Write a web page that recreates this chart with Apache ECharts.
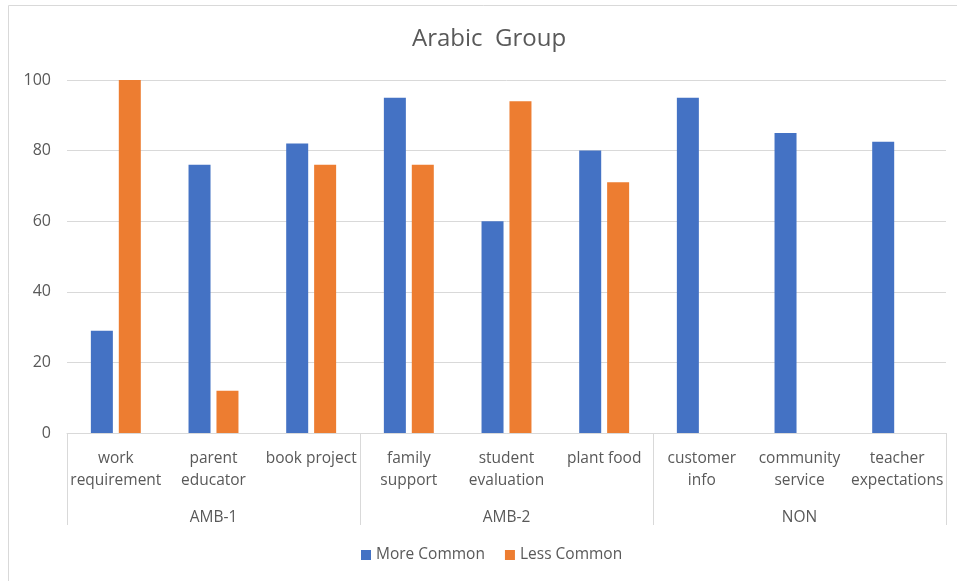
<!DOCTYPE html>
<html><head><meta charset="utf-8">
<script src="https://cdn.jsdelivr.net/npm/echarts@6/dist/echarts.min.js"></script>
<style>html,body{margin:0;padding:0;background:#fff}#c{width:957px;height:581px}</style>
</head><body><div id="c"></div>
<script>
const categories = ['work\nrequirement','parent\neducator','book project','family\nsupport','student\nevaluation','plant food','customer\ninfo','community\nservice','teacher\nexpectations'];
const groups = ['AMB-1','AMB-2','NON'];
const moreCommon = [29, 76, 82, 95, 60, 80, 95, 85, 82.5];
const lessCommon = [100, 12, 76, 76, 94, 71, null, null, null];
const yTicks = {min: 0, max: 100, interval: 20};

const font = 'Open Sans';
const txt = '#595959';
const chart = echarts.init(document.getElementById('c'));
chart.setOption({
  animation: false,
  textStyle: {fontFamily: font},
  graphic: [{type: 'rect', shape: {x: 8.5, y: 5.5, width: 960, height: 590}, style: {fill: 'none', stroke: '#d9d9d9', lineWidth: 1}, silent: true}],
  title: {text: 'Arabic  Group', left: 407, top: 22, textStyle: {fontFamily: font, fontSize: 24, fontWeight: 'normal', color: txt}},
  legend: {bottom: 13, left: 356, itemWidth: 10, itemHeight: 10, itemGap: 20, icon: 'rect',
    textStyle: {fontFamily: font, fontSize: 15.5, color: txt}, data: ['More Common', 'Less Common']},
  grid: {left: 67, right: 11, top: 80, bottom: 148, containLabel: false},
  xAxis: [
    {type: 'category', data: categories, position: 'bottom',
     axisLine: {show: true, lineStyle: {color: '#d9d9d9'}}, axisTick: {show: false},
     axisLabel: {interval: 0, fontFamily: font, fontSize: 15.5, color: txt, lineHeight: 22, margin: 15}},
    {type: 'category', data: groups, position: 'bottom', gridIndex: 0,
     axisLine: {show: false},
     axisTick: {show: true, length: 92, alignWithLabel: false, interval: 0, lineStyle: {color: '#d9d9d9'}},
     axisLabel: {interval: 0, fontFamily: font, fontSize: 15.5, color: txt, margin: 77}}
  ],
  yAxis: {type: 'value', min: yTicks.min, max: yTicks.max, interval: yTicks.interval,
    axisLine: {show: false}, axisTick: {show: false},
    axisLabel: {fontFamily: font, fontSize: 16, color: txt, margin: 16},
    splitLine: {lineStyle: {color: '#d9d9d9'}}},
  series: [
    {name: 'More Common', type: 'bar', data: moreCommon, barWidth: 22, barGap: '27%', itemStyle: {color: '#4472C4'}},
    {name: 'Less Common', type: 'bar', data: lessCommon, barWidth: 22, barGap: '27%', itemStyle: {color: '#ED7D31'}}
  ]
});
</script></body></html>
